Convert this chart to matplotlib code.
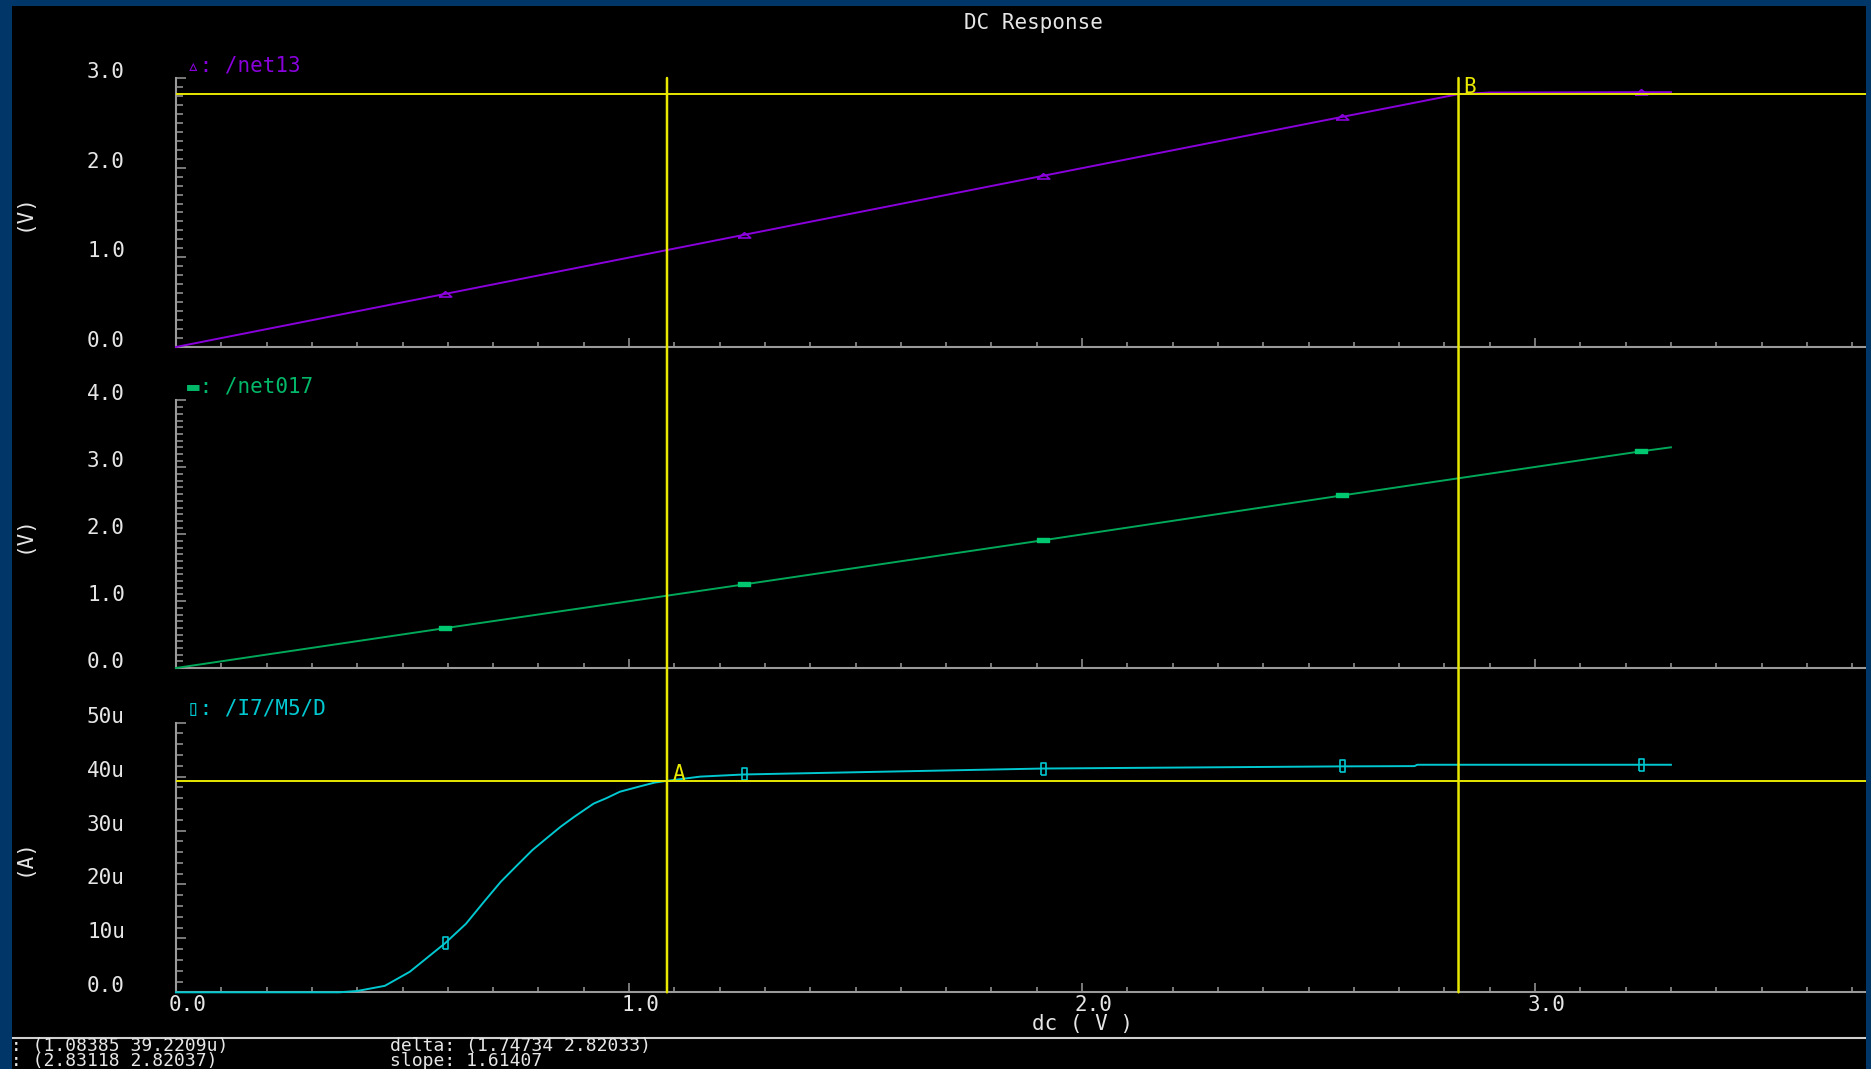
import matplotlib
matplotlib.use('Agg')
import matplotlib.pyplot as plt
from matplotlib import transforms
from matplotlib.patches import Rectangle, ConnectionPatch
from matplotlib.lines import Line2D
from matplotlib.ticker import MultipleLocator

# values (DC sweep, x = dc in volts)
net13_dc = [0.0, 0.594, 1.254, 1.914, 2.574, 2.831, 2.90, 3.234, 3.30]
net13_v = [0.0, 0.592, 1.251, 1.909, 2.566, 2.820, 2.838, 2.842, 2.842]

net017_dc = [0.0, 0.594, 1.254, 1.914, 2.574, 3.234, 3.30]
net017_v = [0.0, 0.596, 1.250, 1.910, 2.580, 3.240, 3.300]

m5_dc = [0.0, 0.36, 0.40, 0.461, 0.516, 0.594, 0.640, 0.68, 0.717, 0.75,
         0.787, 0.82, 0.849, 0.88, 0.922, 0.95, 0.980, 1.02, 1.057, 1.084,
         1.157, 1.254, 1.914, 2.574, 2.734, 2.740, 3.234, 3.30]
m5_ua = [0.0, 0.0, 0.24, 1.2, 3.8, 9.1, 12.7, 16.8, 20.5, 23.3,
         26.4, 28.7, 30.7, 32.6, 35.0, 36.0, 37.2, 38.1, 38.9, 39.22,
         40.0, 40.4, 41.5, 41.9, 41.95, 42.2, 42.2, 42.2]

marker_dc = [0.594, 1.254, 1.914, 2.574, 3.234]

cursor_a = (1.08385, 39.2209)   # on /I7/M5/D (uA)
cursor_b = (2.83118, 2.82037)   # on /net13 (V)
delta = (1.74734, 2.82033)
slope = 1.61407

x_ticks = [0, 1, 2, 3]
x_labels = ["0.0", "1.0", "2.0", "3.0"]
top_ticks = [0, 1, 2, 3]
top_labels = ["0.0", "1.0", "2.0", "3.0"]
mid_ticks = [0, 1, 2, 3, 4]
mid_labels = ["0.0", "1.0", "2.0", "3.0", "4.0"]
bot_ticks = [0, 10, 20, 30, 40, 50]
bot_labels = ["0.0", "10u", "20u", "30u", "40u", "50u"]

W, H = 1871, 1069
BLUE = '#003768'
PURPLE = '#8a00dc'
GREEN = '#00a85a'
CYAN = '#00c8d0'
YELLOW = '#e8e800'
GRAY = '#9a9a9a'
TXT = '#e6e6e6'
MONO = ['DejaVu Sans Mono', 'DejaVu Sans']

plt.rcParams['font.family'] = MONO

fig = plt.figure(figsize=(W / 100, H / 100), dpi=100, facecolor='black')


def frect(left, top, right, bottom):
    return [left / W, 1 - bottom / H, (right - left) / W, (bottom - top) / H]


def pick(xs):
    return [i for i, x in enumerate(xs) if x in marker_dc]


tri = [(-1, -0.4), (1, -0.4), (0, 0.45), (-1, -0.4)]
bar = [(-1, -0.3), (1, -0.3), (1, 0.3), (-1, 0.3), (-1, -0.3)]
box = [(-0.45, -1), (0.45, -1), (0.45, 1), (-0.45, 1), (-0.45, -1)]

xmax = (1866 - 176) / 453.0

ax_top = fig.add_axes(frect(176, 78, 1866, 347))
ax_mid = fig.add_axes(frect(176, 400.5, 1866, 668))
ax_bot = fig.add_axes(frect(176, 722.7, 1866, 992.3))

panels = [
    (ax_top, (0, 3), 1, 0.1, top_ticks, top_labels, "(V)"),
    (ax_mid, (0, 4), 1, 0.1, mid_ticks, mid_labels, "(V)"),
    (ax_bot, (0, 50), 10, 2, bot_ticks, bot_labels, "(A)"),
]

for ax, ylim, ymaj, ymin, ticks, labels, unit in panels:
    ax.patch.set_visible(False)
    ax.set_xlim(0, xmax)
    ax.set_ylim(*ylim)
    for s in ['top', 'right']:
        ax.spines[s].set_visible(False)
    for s in ['left', 'bottom']:
        ax.spines[s].set_color(GRAY)
        ax.spines[s].set_linewidth(1.5)
    ax.xaxis.set_major_locator(MultipleLocator(1))
    ax.xaxis.set_minor_locator(MultipleLocator(0.1))
    ax.yaxis.set_major_locator(MultipleLocator(ymaj))
    ax.yaxis.set_minor_locator(MultipleLocator(ymin))
    ax.tick_params(which='both', direction='in', colors=GRAY, width=1.1,
                   labelleft=False, labelbottom=False, top=False, right=False)
    ax.tick_params(axis='y', which='major', length=7.5)
    ax.tick_params(axis='y', which='minor', length=5)
    ax.tick_params(axis='x', which='major', length=6.5)
    ax.tick_params(axis='x', which='minor', length=3.5)

    ytr = transforms.blended_transform_factory(fig.transFigure, ax.transData)
    for t, lab in zip(ticks, labels):
        ax.text(87 / W, t, lab, transform=ytr, ha='left', va='baseline',
                fontsize=15, color=TXT, clip_on=False)

    bb = ax.get_position()
    fig.text(24 / W, bb.y0 + bb.height / 2, unit, rotation=90, ha='center',
             va='center', fontsize=15, color=TXT)

# traces (drawn over the axis lines)
ax_top.plot(net13_dc, net13_v, color=PURPLE, lw=1.4, marker=tri, ms=9,
            mfc='none', mec=PURPLE, mew=1.2, markevery=pick(net13_dc),
            zorder=3, clip_on=False)
ax_mid.plot(net017_dc, net017_v, color=GREEN, lw=1.4, marker=bar, ms=9,
            mfc='#00c870', mec='#00c870', markevery=pick(net017_dc),
            zorder=3, clip_on=False)
ax_bot.plot(m5_dc, m5_ua, color=CYAN, lw=1.4, marker=box, ms=8,
            mfc='none', mec=CYAN, mew=1.2, markevery=pick(m5_dc),
            zorder=3, clip_on=False)

# trace names
names = [(ax_top, "\u25b5: /net13", PURPLE, 6),
         (ax_mid, "\u25ac: /net017", '#00b868', 7.5),
         (ax_bot, "\u25af: /I7/M5/D", CYAN, 7.7)]
for ax, name, col, dy in names:
    ax.text(0, 1, name, transform=transforms.offset_copy(
        ax.transAxes, fig=fig, x=11, y=dy, units='dots'),
        ha='left', va='baseline', fontsize=15, color=col, clip_on=False)

# x tick labels under the last panel
xtr = transforms.blended_transform_factory(ax_bot.transData, ax_bot.transAxes)
for t, lab in zip(x_ticks, x_labels):
    ax_bot.text(t, 0, lab, transform=transforms.offset_copy(
        xtr, fig=fig, x=-7, y=-19, units='dots'),
        ha='left', va='baseline', fontsize=15, color=TXT, clip_on=False)

# cursors
ax_top.axhline(cursor_b[1], color=YELLOW, lw=1.4, zorder=5)
ax_bot.axhline(cursor_a[1], color=YELLOW, lw=1.4, zorder=5)
for cx in [cursor_a[0], cursor_b[0]]:
    con = ConnectionPatch(xyA=(cx, 3.0), coordsA=ax_top.transData,
                          xyB=(cx, 0), coordsB=ax_bot.transData,
                          color=YELLOW, lw=1.8, zorder=6)
    fig.add_artist(con)
ax_top.text(cursor_b[0], cursor_b[1], "B", transform=transforms.offset_copy(
    ax_top.transData, fig=fig, x=5, y=1, units='dots'),
    ha='left', va='baseline', fontsize=15, color=YELLOW, zorder=7)
ax_bot.text(cursor_a[0], cursor_a[1], "A", transform=transforms.offset_copy(
    ax_bot.transData, fig=fig, x=6, y=1, units='dots'),
    ha='left', va='baseline', fontsize=15, color=YELLOW, zorder=7)

# titles
fig.text(1033 / W, 1 - 29 / H, "DC Response", ha='center', va='baseline',
         fontsize=15, color=TXT)
fig.text(1082 / W, 1 - 1030 / H, "dc ( V )", ha='center', va='baseline',
         fontsize=15, color=TXT)

# cursor readout strip
fig.add_artist(Line2D([12 / W, 1866 / W], [1 - 1038 / H, 1 - 1038 / H],
                      transform=fig.transFigure, color='#d0d0d0', lw=1.5))
fig.text(0 / W, 1 - 1051 / H, f"A: ({cursor_a[0]} {cursor_a[1]}u)",
         ha='left', va='baseline', fontsize=13, color=TXT)
fig.text(0 / W, 1 - 1066.5 / H, f"B: ({cursor_b[0]} {cursor_b[1]})",
         ha='left', va='baseline', fontsize=13, color=TXT)
fig.text(390 / W, 1 - 1051 / H, f"delta: ({delta[0]} {delta[1]})",
         ha='left', va='baseline', fontsize=13, color=TXT)
fig.text(390 / W, 1 - 1066.5 / H, f"slope: {slope}",
         ha='left', va='baseline', fontsize=13, color=TXT)

# window frame
for rect in [(0, 0, 12 / W, 1), (0, 1 - 6 / H, 1, 6 / H),
             (1866 / W, 0, 5 / W, 1)]:
    fig.add_artist(Rectangle(rect[:2], rect[2], rect[3], transform=fig.transFigure,
                             facecolor=BLUE, edgecolor='none', zorder=20))

fig.savefig('out.png', dpi=100, facecolor=fig.get_facecolor())
plt.close(fig)
